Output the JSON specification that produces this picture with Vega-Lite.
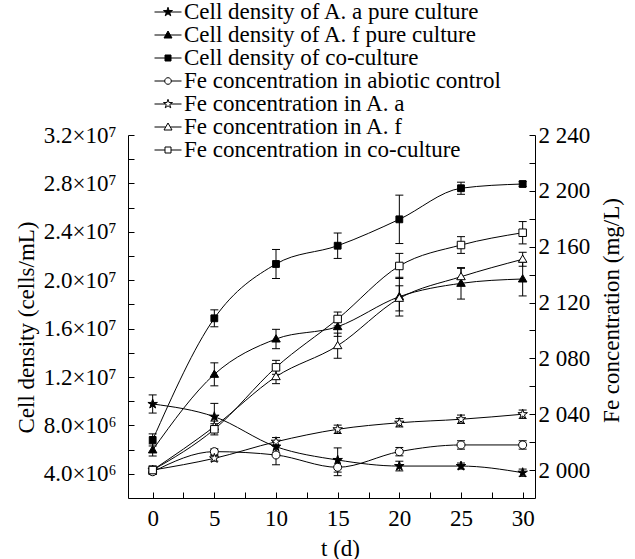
{
  "$schema": "https://vega.github.io/schema/vega-lite/v6.json",
  "width": 407,
  "height": 363,
  "autosize": {"type": "none"},
  "padding": {"left": 128, "top": 135, "right": 100, "bottom": 61},
  "background": "white",
  "config": {
    "font": "Liberation Serif",
    "view": {"stroke": null},
    "axis": {
      "grid": false,
      "domainColor": "black",
      "domainWidth": 1,
      "ticks": true,
      "tickColor": "black",
      "tickWidth": 1,
      "tickSize": -6,
      "labelColor": "black",
      "titleColor": "black",
      "labelFont": "Liberation Serif",
      "titleFont": "Liberation Serif",
      "labelFontSize": 23,
      "titleFontSize": 23,
      "titleFontWeight": "normal",
      "labelOverlap": false,
      "labelFlush": false
    },
    "legend": {
      "symbolStrokeColor": "black",
      "symbolStrokeWidth": 1,
      "symbolSize": 400,
      "symbolOpacity": 1,
      "symbolOffset": 4,
      "labelFont": "Liberation Serif",
      "labelFontSize": 23,
      "labelColor": "black",
      "labelOffset": 4.5,
      "labelLimit": 0,
      "rowPadding": 0,
      "clipHeight": 20,
      "padding": 0
    }
  },
  "data": {
    "values": [
      {"s": "Cell density of A. a pure culture", "g": "cell", "t": 0, "v": 9770000, "lo": 9020000, "hi": 10520000},
      {"s": "Cell density of A. a pure culture", "g": "cell", "t": 5, "v": 8720000, "lo": 7620000, "hi": 9820000},
      {"s": "Cell density of A. a pure culture", "g": "cell", "t": 10, "v": 6240000, "lo": 5790000, "hi": 6690000},
      {"s": "Cell density of A. a pure culture", "g": "cell", "t": 15, "v": 5140000, "lo": 4140000, "hi": 6140000},
      {"s": "Cell density of A. a pure culture", "g": "cell", "t": 20, "v": 4640000, "lo": 4240000, "hi": 5040000},
      {"s": "Cell density of A. a pure culture", "g": "cell", "t": 25, "v": 4640000, "lo": 4390000, "hi": 4890000},
      {"s": "Cell density of A. a pure culture", "g": "cell", "t": 30, "v": 4090000, "lo": 3790000, "hi": 4390000},
      {"s": "Cell density of A. f pure culture", "g": "cell", "t": 0, "v": 5970000, "lo": 5470000, "hi": 6470000},
      {"s": "Cell density of A. f pure culture", "g": "cell", "t": 5, "v": 12220000, "lo": 11270000, "hi": 13170000},
      {"s": "Cell density of A. f pure culture", "g": "cell", "t": 10, "v": 15140000, "lo": 14340000, "hi": 15940000},
      {"s": "Cell density of A. f pure culture", "g": "cell", "t": 15, "v": 16160000, "lo": 15360000, "hi": 16960000},
      {"s": "Cell density of A. f pure culture", "g": "cell", "t": 20, "v": 18640000, "lo": 17040000, "hi": 20240000},
      {"s": "Cell density of A. f pure culture", "g": "cell", "t": 25, "v": 19740000, "lo": 18440000, "hi": 21040000},
      {"s": "Cell density of A. f pure culture", "g": "cell", "t": 30, "v": 20100000, "lo": 18700000, "hi": 21500000},
      {"s": "Cell density of co-culture", "g": "cell", "t": 0, "v": 6800000, "lo": 6300000, "hi": 7300000},
      {"s": "Cell density of co-culture", "g": "cell", "t": 5, "v": 16850000, "lo": 16150000, "hi": 17550000},
      {"s": "Cell density of co-culture", "g": "cell", "t": 10, "v": 21340000, "lo": 20140000, "hi": 22540000},
      {"s": "Cell density of co-culture", "g": "cell", "t": 15, "v": 22850000, "lo": 21800000, "hi": 23900000},
      {"s": "Cell density of co-culture", "g": "cell", "t": 20, "v": 25030000, "lo": 23030000, "hi": 27030000},
      {"s": "Cell density of co-culture", "g": "cell", "t": 25, "v": 27600000, "lo": 27100000, "hi": 28100000},
      {"s": "Cell density of co-culture", "g": "cell", "t": 30, "v": 27950000, "lo": 27750000, "hi": 28150000},
      {"s": "Fe concentration in abiotic control", "g": "fe", "t": 0, "v": 1998.8, "lo": 1996.8, "hi": 2000.8},
      {"s": "Fe concentration in abiotic control", "g": "fe", "t": 5, "v": 2013.2, "lo": 2011.2, "hi": 2015.2},
      {"s": "Fe concentration in abiotic control", "g": "fe", "t": 10, "v": 2010.8, "lo": 2003.8, "hi": 2017.8},
      {"s": "Fe concentration in abiotic control", "g": "fe", "t": 15, "v": 2002, "lo": 1996, "hi": 2008},
      {"s": "Fe concentration in abiotic control", "g": "fe", "t": 20, "v": 2013.2, "lo": 2010.2, "hi": 2016.2},
      {"s": "Fe concentration in abiotic control", "g": "fe", "t": 25, "v": 2018, "lo": 2015, "hi": 2021},
      {"s": "Fe concentration in abiotic control", "g": "fe", "t": 30, "v": 2018, "lo": 2015, "hi": 2021},
      {"s": "Fe concentration in A. a", "g": "fe", "t": 0, "v": 2000, "lo": 1998, "hi": 2002},
      {"s": "Fe concentration in A. a", "g": "fe", "t": 5, "v": 2008.4, "lo": 2006.4, "hi": 2010.4},
      {"s": "Fe concentration in A. a", "g": "fe", "t": 10, "v": 2020.3, "lo": 2017.3, "hi": 2023.3},
      {"s": "Fe concentration in A. a", "g": "fe", "t": 15, "v": 2029.2, "lo": 2026.2, "hi": 2032.2},
      {"s": "Fe concentration in A. a", "g": "fe", "t": 20, "v": 2033.9, "lo": 2030.9, "hi": 2036.9},
      {"s": "Fe concentration in A. a", "g": "fe", "t": 25, "v": 2036.4, "lo": 2033.4, "hi": 2039.4},
      {"s": "Fe concentration in A. a", "g": "fe", "t": 30, "v": 2040, "lo": 2037, "hi": 2043},
      {"s": "Fe concentration in A. f", "g": "fe", "t": 0, "v": 2000, "lo": 1997, "hi": 2003},
      {"s": "Fe concentration in A. f", "g": "fe", "t": 5, "v": 2031.1, "lo": 2027.1, "hi": 2035.1},
      {"s": "Fe concentration in A. f", "g": "fe", "t": 10, "v": 2066.9, "lo": 2061.9, "hi": 2071.9},
      {"s": "Fe concentration in A. f", "g": "fe", "t": 15, "v": 2089.1, "lo": 2080.1, "hi": 2098.1},
      {"s": "Fe concentration in A. f", "g": "fe", "t": 20, "v": 2123, "lo": 2114, "hi": 2132},
      {"s": "Fe concentration in A. f", "g": "fe", "t": 25, "v": 2138.5, "lo": 2132.5, "hi": 2144.5},
      {"s": "Fe concentration in A. f", "g": "fe", "t": 30, "v": 2151, "lo": 2146, "hi": 2156},
      {"s": "Fe concentration in co-culture", "g": "fe", "t": 0, "v": 2000, "lo": 1998, "hi": 2002},
      {"s": "Fe concentration in co-culture", "g": "fe", "t": 5, "v": 2029.2, "lo": 2025.2, "hi": 2033.2},
      {"s": "Fe concentration in co-culture", "g": "fe", "t": 10, "v": 2073.6, "lo": 2068.6, "hi": 2078.6},
      {"s": "Fe concentration in co-culture", "g": "fe", "t": 15, "v": 2108.2, "lo": 2103.2, "hi": 2113.2},
      {"s": "Fe concentration in co-culture", "g": "fe", "t": 20, "v": 2146.2, "lo": 2137.2, "hi": 2155.2},
      {"s": "Fe concentration in co-culture", "g": "fe", "t": 25, "v": 2161.2, "lo": 2155.2, "hi": 2167.2},
      {"s": "Fe concentration in co-culture", "g": "fe", "t": 30, "v": 2170, "lo": 2162, "hi": 2178}
    ]
  },
  "encoding": {
    "x": {
      "field": "t",
      "type": "quantitative",
      "scale": {"domain": [-2, 31], "nice": false, "zero": false},
      "axis": {
        "title": "t (d)",
        "titleX": 212,
        "titleY": 57,
        "titleBaseline": "alphabetic",
        "titleAlign": "center",
        "values": [0, 2.5, 5, 7.5, 10, 12.5, 15, 17.5, 20, 22.5, 25, 27.5, 30],
        "labelExpr": "datum.value % 5 === 0 ? datum.label : ''",
        "ticks": true,
        "tickSize": -6,
        "labelPadding": 15
      }
    }
  },
  "layer": [
    {
      "transform": [{"filter": "datum.g === 'cell'"}],
      "encoding": {
        "y": {
          "field": "v",
          "type": "quantitative",
          "scale": {"domain": [2000000, 32000000], "nice": false, "zero": false},
          "axis": {
            "orient": "left",
            "title": "Cell density (cells/mL)",
            "titleX": -95,
            "titleY": 192,
            "titleAngle": 270,
            "titleBaseline": "alphabetic",
            "titleAlign": "center",
            "values": [4000000, 6000000, 8000000, 10000000, 12000000, 14000000, 16000000, 18000000, 20000000, 22000000, 24000000, 26000000, 28000000, 30000000, 32000000],
            "labelExpr": "datum.value % 4000000 === 0 ? (datum.value >= 10000000 ? format(datum.value / 10000000, '.1f') + '×10⁷' : format(datum.value / 1000000, '.1f') + '×10⁶') : ''",
            "ticks": true,
            "tickSize": -6,
            "labelPadding": 18
          }
        }
      },
      "layer": [
        {
          "mark": {"type": "rule", "color": "black", "strokeWidth": 1},
          "encoding": {
            "y": {"field": "lo", "type": "quantitative"},
            "y2": {"field": "hi"}
          }
        },
        {
          "mark": {"type": "tick", "orient": "horizontal", "size": 8, "thickness": 1, "color": "black", "opacity": 1},
          "encoding": {"y": {"field": "lo", "type": "quantitative"}}
        },
        {
          "mark": {"type": "tick", "orient": "horizontal", "size": 8, "thickness": 1, "color": "black", "opacity": 1},
          "encoding": {"y": {"field": "hi", "type": "quantitative"}}
        },
        {
          "mark": {"type": "line", "color": "black", "strokeWidth": 1, "interpolate": "monotone"},
          "encoding": {"detail": {"field": "s"}}
        },
        {
          "mark": {"type": "point", "filled": true, "stroke": "black", "strokeWidth": 1, "opacity": 1, "size": 100},
          "encoding": {
            "shape": {
              "field": "s",
              "type": "nominal",
              "legend": null,
              "scale": {
                "domain": ["Cell density of A. a pure culture", "Cell density of A. f pure culture", "Cell density of co-culture"],
                "range": [
                  "M0,-1L0.225,-0.309L0.951,-0.309L0.363,0.118L0.588,0.809L0,0.382L-0.588,0.809L-0.363,0.118L-0.951,-0.309L-0.225,-0.309Z",
                  "M0,-0.85L0.85,0.6L-0.85,0.6Z",
                  "M-0.68,-0.68L0.68,-0.68L0.68,0.68L-0.68,0.68Z"
                ]
              }
            },
            "fill": {"value": "black"}
          }
        }
      ]
    },
    {
      "transform": [{"filter": "datum.g === 'fe'"}],
      "encoding": {
        "y": {
          "field": "v",
          "type": "quantitative",
          "scale": {"domain": [1980, 2240], "nice": false, "zero": false},
          "axis": {
            "orient": "right",
            "title": "Fe concentration (mg/L)",
            "titleX": 83.5,
            "titleY": 175,
            "titleAngle": 270,
            "titleBaseline": "alphabetic",
            "titleAlign": "center",
            "values": [2000, 2020, 2040, 2060, 2080, 2100, 2120, 2140, 2160, 2180, 2200, 2220, 2240],
            "labelExpr": "(datum.value - 2000) % 40 === 0 ? replace(format(datum.value, ','), ',', ' ') : ''",
            "ticks": true,
            "tickSize": -6,
            "labelPadding": 9
          }
        }
      },
      "layer": [
        {
          "mark": {"type": "rule", "color": "black", "strokeWidth": 1},
          "encoding": {
            "y": {"field": "lo", "type": "quantitative"},
            "y2": {"field": "hi"}
          }
        },
        {
          "mark": {"type": "tick", "orient": "horizontal", "size": 8, "thickness": 1, "color": "black", "opacity": 1},
          "encoding": {"y": {"field": "lo", "type": "quantitative"}}
        },
        {
          "mark": {"type": "tick", "orient": "horizontal", "size": 8, "thickness": 1, "color": "black", "opacity": 1},
          "encoding": {"y": {"field": "hi", "type": "quantitative"}}
        },
        {
          "mark": {"type": "line", "color": "black", "strokeWidth": 1, "interpolate": "monotone"},
          "encoding": {"detail": {"field": "s"}}
        },
        {
          "mark": {"type": "point", "filled": true, "stroke": "black", "strokeWidth": 1, "opacity": 1, "size": 100},
          "encoding": {
            "shape": {
              "field": "s",
              "type": "nominal",
              "legend": null,
              "scale": {
                "domain": ["Fe concentration in abiotic control", "Fe concentration in A. a", "Fe concentration in A. f", "Fe concentration in co-culture"],
                "range": [
                  "M0.8,0A0.8,0.8 0 1 1 -0.8,0A0.8,0.8 0 1 1 0.8,0Z",
                  "M0,-1L0.225,-0.309L0.951,-0.309L0.363,0.118L0.588,0.809L0,0.382L-0.588,0.809L-0.363,0.118L-0.951,-0.309L-0.225,-0.309Z",
                  "M0,-0.85L0.85,0.6L-0.85,0.6Z",
                  "M-0.75,-0.75L0.75,-0.75L0.75,0.75L-0.75,0.75Z"
                ]
              }
            },
            "fill": {"value": "white"}
          }
        }
      ]
    },
    {
      "transform": [{"filter": "false"}],
      "mark": {"type": "point", "filled": true, "stroke": "black", "strokeWidth": 1, "opacity": 1, "size": 400},
      "encoding": {
        "y": {"field": "v", "type": "quantitative", "axis": null, "scale": {"domain": [0, 1]}},
        "shape": {
          "field": "s",
          "type": "nominal",
          "scale": {
            "domain": ["Cell density of A. a pure culture", "Cell density of A. f pure culture", "Cell density of co-culture", "Fe concentration in abiotic control", "Fe concentration in A. a", "Fe concentration in A. f", "Fe concentration in co-culture"],
            "range": [
              "M-1.35,0L1.35,0M0,-0.47L0.106,-0.145L0.447,-0.145L0.171,0.055L0.276,0.38L0,0.18L-0.276,0.38L-0.171,0.055L-0.447,-0.145L-0.106,-0.145Z",
              "M-1.35,0L1.35,0M0,-0.4L0.4,0.3L-0.4,0.3Z",
              "M-1.35,0L1.35,0M-0.3,-0.3L0.3,-0.3L0.3,0.3L-0.3,0.3Z",
              "M-1.35,0L-0.33,0M0.33,0L1.35,0M0.33,0A0.33,0.33 0 1 1 -0.33,0A0.33,0.33 0 1 1 0.33,0Z",
              "M-1.35,0L-0.25,0M0.25,0L1.35,0M0,-0.47L0.106,-0.145L0.447,-0.145L0.171,0.055L0.276,0.38L0,0.18L-0.276,0.38L-0.171,0.055L-0.447,-0.145L-0.106,-0.145Z",
              "M-1.35,0L-0.23,0M0.23,0L1.35,0M0,-0.4L0.4,0.3L-0.4,0.3Z",
              "M-1.35,0L-0.3,0M0.3,0L1.35,0M-0.3,-0.3L0.3,-0.3L0.3,0.3L-0.3,0.3Z"
            ]
          },
          "legend": {
            "title": null,
            "orient": "none",
            "legendX": 24.5,
            "legendY": -133,
            "direction": "vertical",
            "padding": 0,
            "symbolSize": 400,
            "symbolOpacity": 1,
            "symbolOffset": 4,
            "symbolStrokeColor": "black",
            "symbolStrokeWidth": 1,
            "labelOffset": 4.5,
            "rowPadding": 0,
            "clipHeight": 20,
            "encode": {
              "symbols": {"stroke": {"value": "black"}, "strokeWidth": {"value": 1}}
            }
          }
        },
        "fill": {
          "field": "s",
          "type": "nominal",
          "scale": {
            "domain": ["Cell density of A. a pure culture", "Cell density of A. f pure culture", "Cell density of co-culture", "Fe concentration in abiotic control", "Fe concentration in A. a", "Fe concentration in A. f", "Fe concentration in co-culture"],
            "range": ["black", "black", "black", "white", "white", "white", "white"]
          },
          "legend": {
            "title": null,
            "orient": "none",
            "legendX": 24.5,
            "legendY": -133,
            "direction": "vertical",
            "padding": 0,
            "symbolSize": 400,
            "symbolOpacity": 1,
            "symbolOffset": 4,
            "symbolStrokeColor": "black",
            "symbolStrokeWidth": 1,
            "labelOffset": 4.5,
            "rowPadding": 0,
            "clipHeight": 20
          }
        },
        "stroke": {
          "field": "s",
          "type": "nominal",
          "scale": {
            "domain": ["Cell density of A. a pure culture", "Cell density of A. f pure culture", "Cell density of co-culture", "Fe concentration in abiotic control", "Fe concentration in A. a", "Fe concentration in A. f", "Fe concentration in co-culture"],
            "range": ["black", "black", "black", "black", "black", "black", "black"]
          },
          "legend": {
            "title": null,
            "orient": "none",
            "legendX": 24.5,
            "legendY": -133,
            "direction": "vertical",
            "padding": 0,
            "symbolSize": 400,
            "symbolOpacity": 1,
            "symbolOffset": 4,
            "symbolStrokeWidth": 1,
            "labelOffset": 4.5,
            "rowPadding": 0,
            "clipHeight": 20
          }
        }
      }
    }
  ],
  "resolve": {"scale": {"y": "independent", "shape": "independent", "fill": "independent", "stroke": "independent"}}
}
